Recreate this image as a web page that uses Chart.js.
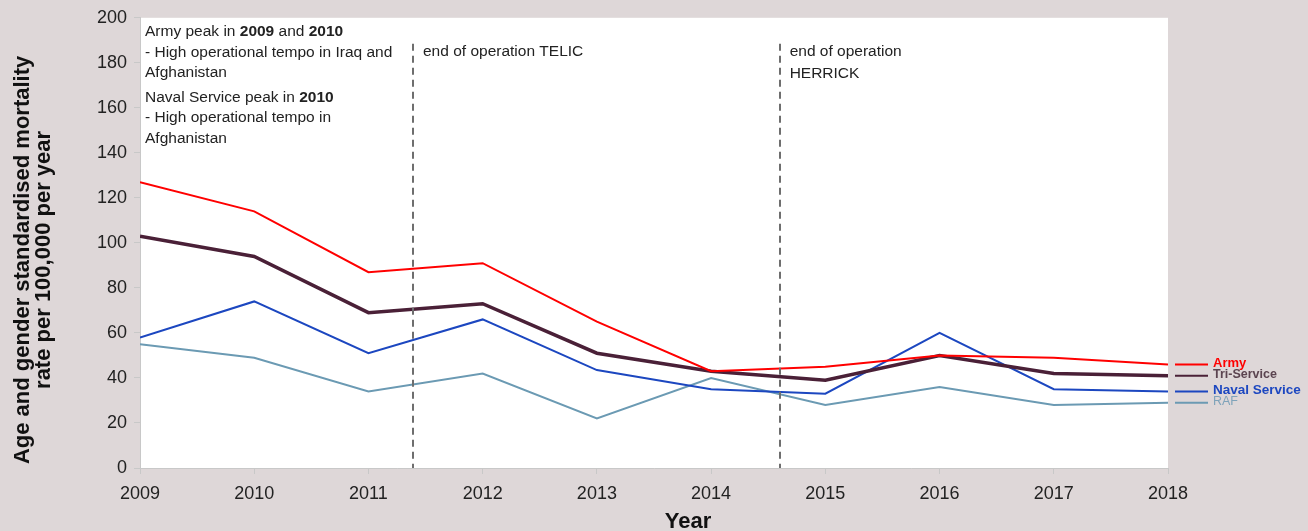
<!DOCTYPE html>
<html>
<head>
<meta charset="utf-8">
<script src="https://cdn.jsdelivr.net/npm/chart.js@4/dist/chart.umd.min.js"></script>
<style>
  html, body { margin: 0; padding: 0; background: #ded7d8; }
  #wrap { width: 1308px; height: 531px; position: relative; }
</style>
</head>
<body>
<div id="wrap"><canvas id="chart"></canvas></div>
<script>
const years = [2009, 2010, 2011, 2012, 2013, 2014, 2015, 2016, 2017, 2018];
const army = [127, 114, 87, 91, 65, 43, 45, 50, 49, 46];
const triService = [103, 94, 69, 73, 51, 43, 39, 50, 42, 41];
const naval = [58, 74, 51, 66, 43.5, 35, 33, 60, 35, 34];
const raf = [55, 49, 34, 42, 22, 40, 28, 36, 28, 29];

const yTicks = [0, 200, 20];
const xTitle = "Year";
const yTitle = ["Age and gender standardised mortality", "rate per 100,000 per year"];
const events = [
	{ x: 2011.39, lines: ["end of operation TELIC"] },
	{ x: 2014.6, lines: ["end of operation", "HERRICK"] },
];
const notes = [
	[["Army peak in ", false], ["2009", true], [" and ", false], ["2010", true]],
	[["- High operational tempo in Iraq and", false]],
	[["Afghanistan", false]],
	[["Naval Service peak in ", false], ["2010", true]],
	[["- High operational tempo in", false]],
	[["Afghanistan", false]],
];

const series = [
	{ label: "Army", values: army, color: "#ff0000", width: 2, labelColor: "#ff0000", bold: true, size: 13 },
	{ label: "Tri-Service", values: triService, color: "#4a2037", width: 3.5, labelColor: "#5b4450", bold: true, size: 12.5 },
	{ label: "Naval Service", values: naval, color: "#1c47c0", width: 2, labelColor: "#1c47c0", bold: true, size: 13.5 },
	{ label: "RAF", values: raf, color: "#6b9ab3", width: 2, labelColor: "#7fa3ba", bold: false, size: 12.5 },
];

const FONT = "'Liberation Sans', Arial, sans-serif";

const plotBg = {
	id: "plotBg",
	beforeDraw(chart) {
		const { ctx, chartArea: a } = chart;
		ctx.save();
		ctx.fillStyle = "#ffffff";
		ctx.fillRect(a.left, a.top, a.right - a.left, a.bottom - a.top);
		ctx.restore();
	},
};

const extras = {
	id: "extras",
	afterDraw(chart) {
		const { ctx, chartArea: a } = chart;
		const xs = chart.scales.x, ys = chart.scales.y;
		ctx.save();
		// dashed event lines
		ctx.strokeStyle = "#6e6e6e";
		ctx.lineWidth = 2;
		ctx.setLineDash([7, 5]);
		events.forEach(ev => {
			const px = Math.round(xs.getPixelForValue(ev.x));
			ctx.beginPath();
			ctx.moveTo(px, a.top + 26);
			ctx.lineTo(px, a.bottom);
			ctx.stroke();
		});
		ctx.setLineDash([]);
		ctx.fillStyle = "#222";
		ctx.textBaseline = "middle";
		ctx.font = "15.5px " + FONT;
		events.forEach(ev => {
			const px = xs.getPixelForValue(ev.x);
			ev.lines.forEach((t, i) => ctx.fillText(t, px + 10, a.top + 34 + i * 22));
		});
		// notes top-left
		notes.forEach((line, i) => {
			let x = a.left + 5;
			const y = a.top + 14 + i * 20.5 + (i >= 3 ? 4 : 0);
			line.forEach(([t, b]) => {
				ctx.font = (b ? "bold " : "") + "15.5px " + FONT;
				ctx.fillText(t, x, y);
				x += ctx.measureText(t).width;
			});
		});
		// end-of-line labels
		series.forEach(s => {
			const y = ys.getPixelForValue(s.values[s.values.length - 1]);
			ctx.strokeStyle = s.color;
			ctx.lineWidth = 2;
			ctx.beginPath();
			ctx.moveTo(a.right + 7, y);
			ctx.lineTo(a.right + 40, y);
			ctx.stroke();
			ctx.fillStyle = s.labelColor;
			ctx.font = (s.bold ? "bold " : "") + s.size + "px " + FONT;
			ctx.fillText(s.label, a.right + 45, y - 1);
		});
		// axis titles
		ctx.fillStyle = "#111";
		ctx.font = "bold 22px " + FONT;
		ctx.textAlign = "center";
		ctx.textBaseline = "alphabetic";
		ctx.fillText(xTitle, (a.left + a.right) / 2 + 34, chart.height - 3);
		ctx.translate(0, (a.top + a.bottom) / 2 + 17);
		ctx.rotate(-Math.PI / 2);
		yTitle.forEach((t, i) => ctx.fillText(t, 0, 29 + i * 21));
		ctx.restore();
	},
};

const data = {
	datasets: series.map(s => ({
		label: s.label,
		data: years.map((yr, i) => ({ x: yr, y: s.values[i] })),
		borderColor: s.color,
		borderWidth: s.width,
		fill: false,
		tension: 0,
		pointRadius: 0,
	})),
};

const config = {
	type: "line",
	data: data,
	options: {
		responsive: false,
		animation: false,
		layout: { padding: { top: 17, right: 140, left: 0, bottom: 0 } },
		plugins: {
			legend: { display: false },
			tooltip: { enabled: false },
		},
		scales: {
			x: {
				type: "linear",
				min: years[0],
				max: years[years.length - 1],
				afterFit(s) { s.height = 63; },
				border: { color: "#c8c8c8", width: 1 },
				grid: { drawOnChartArea: false, color: "#c8c8c8", tickLength: 6 },
				ticks: {
					stepSize: 1,
					color: "#222",
					padding: 9,
					font: { size: 18, family: FONT },
					callback: v => String(v),
				},
			},
			y: {
				min: yTicks[0],
				max: yTicks[1],
				afterFit(s) { s.width = 140; },
				border: { color: "#c8c8c8", width: 1 },
				grid: { drawOnChartArea: false, color: "#c8c8c8", tickLength: 6 },
				ticks: {
					stepSize: yTicks[2],
					color: "#222",
					padding: 7,
					font: { size: 18, family: FONT },
				},
			},
		},
	},
	plugins: [plotBg, extras],
};

const canvas = document.getElementById("chart");
canvas.width = 1308;
canvas.height = 531;
const line_graph = new Chart(canvas, config);
</script>
</body>
</html>
